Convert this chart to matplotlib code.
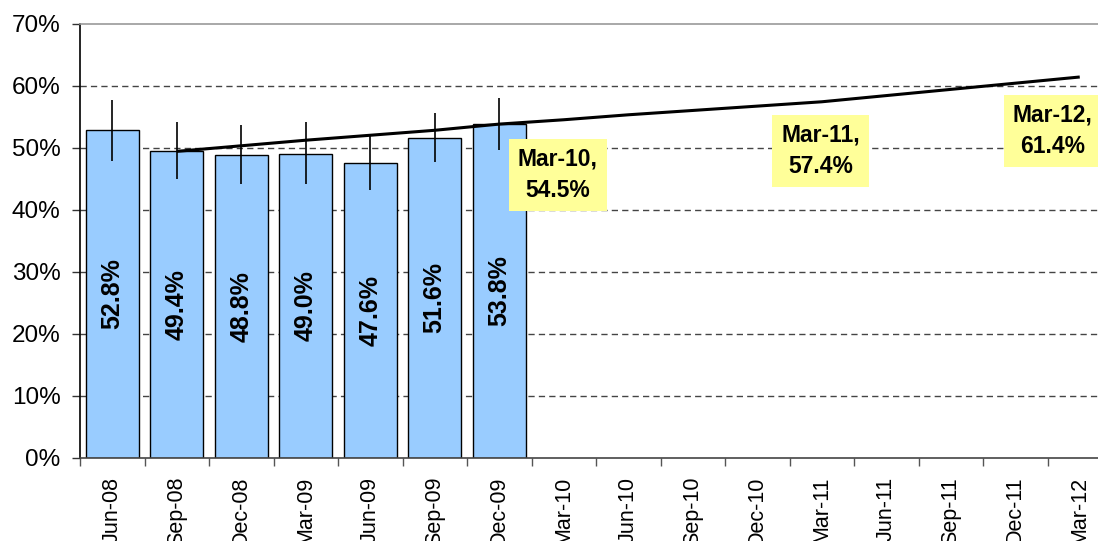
import numpy as np
import matplotlib
matplotlib.use("Agg")
import matplotlib.pyplot as plt

plt.rcParams['font.family'] = ['Liberation Sans', 'DejaVu Sans']

categories = ["Jun-08", "Sep-08", "Dec-08", "Mar-09", "Jun-09", "Sep-09", "Dec-09",
              "Mar-10", "Jun-10", "Sep-10", "Dec-10", "Mar-11", "Jun-11", "Sep-11",
              "Dec-11", "Mar-12"]
bar_values = [52.8, 49.4, 48.8, 49.0, 47.6, 51.6, 53.8]
err_up = [4.9, 4.7, 4.9, 5.1, 4.3, 4.0, 4.2]
err_down = [4.9, 4.5, 4.6, 4.8, 4.4, 3.9, 4.1]
trend_values = [np.nan, 49.4, 50.3, 51.2, 52.0, 52.8, 53.8,
                54.5, 55.3, 56.0, 56.7, 57.4, 58.4, 59.4, 60.4, 61.4]
callout_idx = [7, 11, 15]
callout_labels = ["Mar-10", "Mar-11", "Mar-12"]
callout_values = [54.5, 57.4, 61.4]
y_ticks = [0, 10, 20, 30, 40, 50, 60, 70]

W, H = 1098, 541
fig = plt.figure(figsize=(W / 100, H / 100), dpi=100)
ax = fig.add_axes([80 / W, 1 - 457.5 / H, 16 * 64.5 / W, (457.5 - 23.7) / H])

x = np.arange(len(categories))
xb = x[:len(bar_values)]

# grid
for v in y_ticks[1:-1]:
    ax.axhline(v, color='#444444', lw=1.0, dashes=(4.5, 3), zorder=0.5)

ax.bar(xb, bar_values, width=0.82, color='#99CCFF', edgecolor='black',
       linewidth=1.0, zorder=2)
ax.errorbar(xb, bar_values, yerr=[err_down, err_up], fmt='none',
            ecolor='black', elinewidth=1.2, capsize=0, zorder=3)
ax.plot(x, trend_values, color='black', lw=2.2, zorder=4, solid_capstyle='butt')

for xi, v in zip(xb, bar_values):
    ax.text(xi, v / 2, f"{v:.1f}%", rotation=90, ha='center', va='center',
            fontsize=18, fontweight='bold', zorder=5)

callout_pos = {7: (6.91, 45.6), 11: (10.98, 49.5), 15: (14.58, 52.7)}
for idx, lab, v in zip(callout_idx, callout_labels, callout_values):
    tx, ty = callout_pos[idx]
    ax.text(tx, ty, f"{lab},\n{v:.1f}%", ha='center', va='center',
            multialignment='center', fontsize=16.5, fontweight='bold',
            linespacing=1.5, zorder=6,
            bbox=dict(boxstyle='square,pad=0.38', facecolor='#FFFF99',
                      edgecolor='none'))

ax.set_xlim(-0.5, len(categories) - 0.5)
ax.set_ylim(0, 70)
ax.set_yticks(y_ticks)
ax.set_yticklabels([f"{v}%" for v in y_ticks], fontsize=17.5)
ax.tick_params(axis='y', direction='out', length=6, width=1, color='#333333', pad=8)

ax.set_xticks(np.arange(-0.5, len(categories), 1.0))
ax.set_xticklabels([])
ax.tick_params(axis='x', which='major', direction='out', length=5.5, width=1, color='#555555')
ax.set_xticks(x, minor=True)
ax.set_xticklabels(categories, minor=True, rotation=90, fontsize=15.5,
                   ha='center', va='top')
ax.tick_params(axis='x', which='minor', length=0, pad=14)

ax.spines['left'].set_color('black')
ax.spines['left'].set_linewidth(1.2)
ax.spines['bottom'].set_color('#444444')
ax.spines['bottom'].set_linewidth(1.2)
ax.spines['top'].set_color('#999999')
ax.spines['top'].set_linewidth(1.2)
ax.spines['right'].set_visible(False)

fig.savefig("out.png", dpi=100)
